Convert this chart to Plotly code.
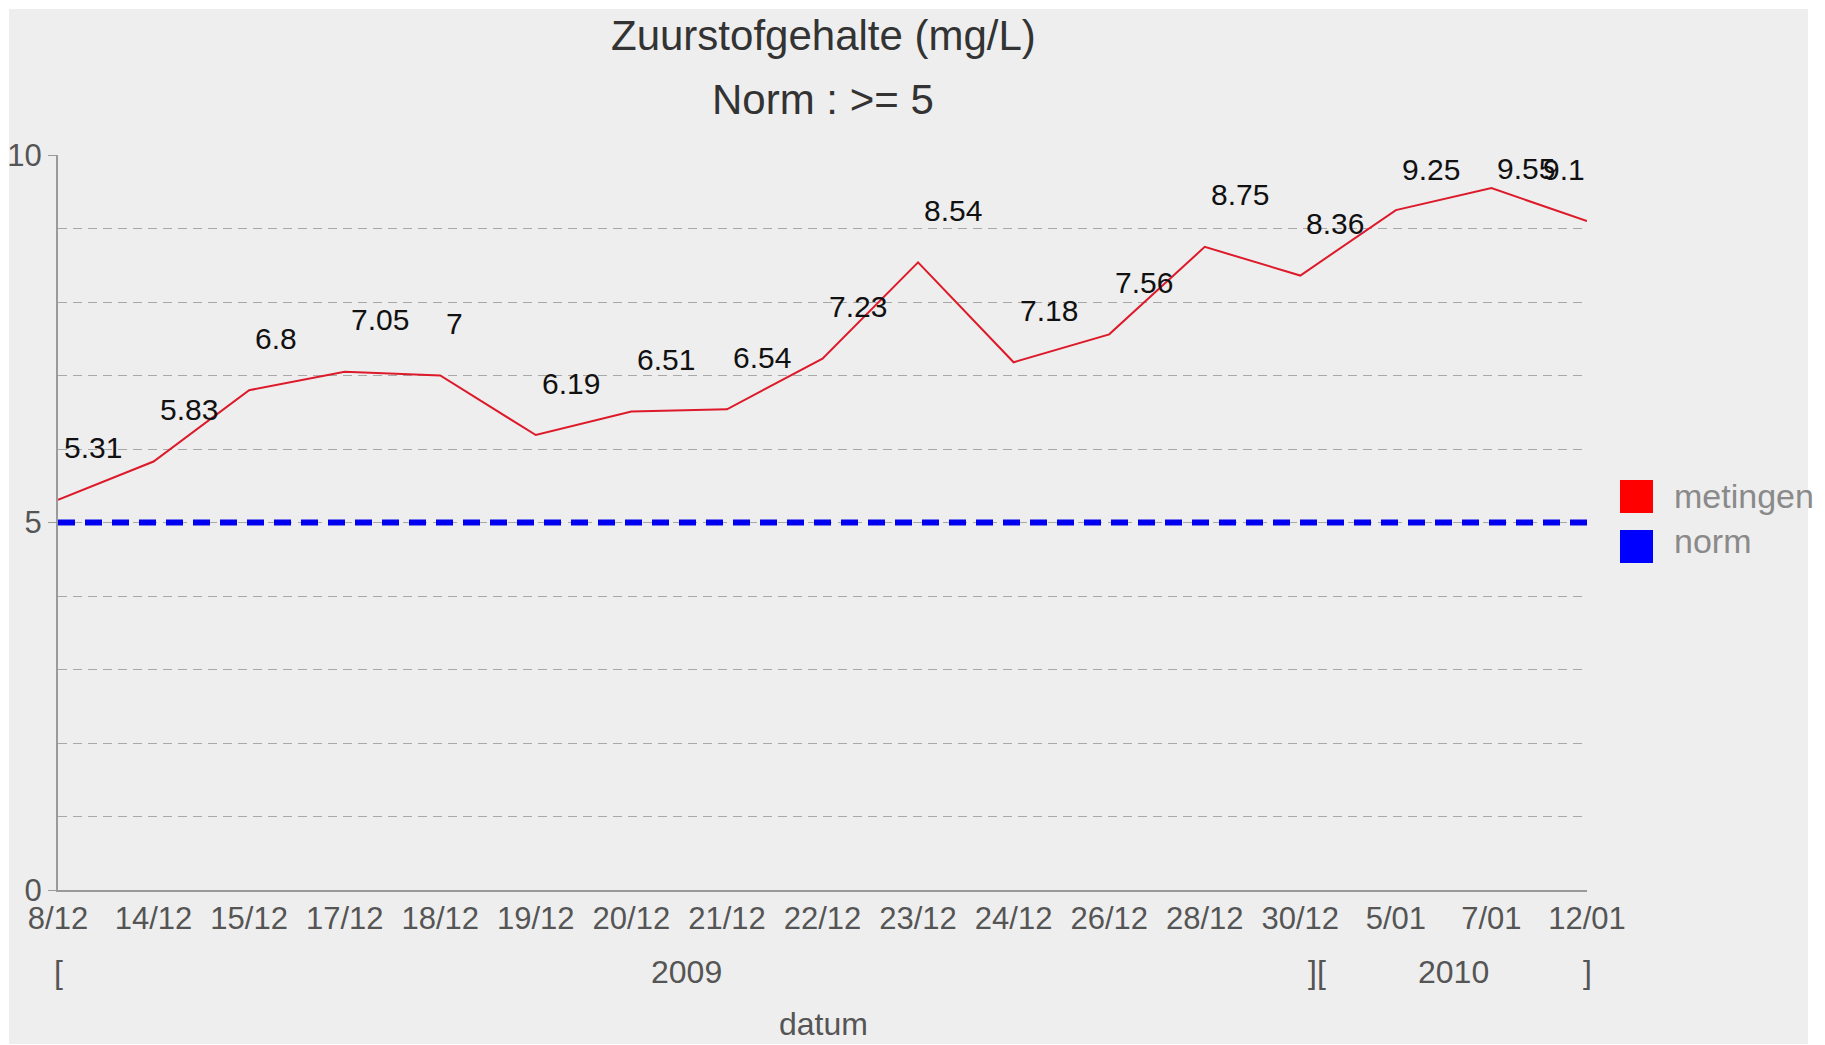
import plotly.graph_objects as go

# ---- data ----
dates = ["8/12", "14/12", "15/12", "17/12", "18/12", "19/12", "20/12", "21/12", "22/12",
         "23/12", "24/12", "26/12", "28/12", "30/12", "5/01", "7/01", "12/01"]
metingen = [5.31, 5.83, 6.8, 7.05, 7, 6.19, 6.51, 6.54, 7.23, 8.54, 7.18, 7.56, 8.75,
            8.36, 9.25, 9.55, 9.1]
norm_value = 5
year_labels = ["[", "2009", "][", "2010", "]"]
year_pos = [0, 6.58, 13.17, 14.6, 16]
y_ticks = [0, 5, 10]
y_range = [0, 10]

# ---- layout geometry (figure pixels; the page adds an 8px body margin) ----
OFF = 8
W, H = 1825 - OFF, 1045 - OFF
L, T = 58 - OFF, 155 - OFF
R = W - (1587 - OFF)
B = H - (890 - OFF)
pw, ph = W - L - R, H - T - B


def px(xp):
    """page x pixel -> paper fraction"""
    return (xp - OFF - L) / pw


def py(yp):
    """page y pixel -> paper fraction"""
    return (H - B - (yp - OFF)) / ph


FONT = "Liberation Sans, Arial, sans-serif"
x = list(range(len(dates)))

fig = go.Figure()
fig.add_trace(go.Scatter(x=[x[0], x[-1]], y=[norm_value, norm_value], mode="lines",
                         line=dict(color="#0000ee", width=6, dash="17px,10px"),
                         name="norm", showlegend=False, hoverinfo="skip"))
fig.add_trace(go.Scatter(x=x, y=metingen, mode="lines",
                         line=dict(color="#dd1a2a", width=2),
                         name="metingen", showlegend=False))

annotations = []
label_offset = 52           # pixels above the point
label_top = 169 - T - OFF   # labels never rise above this (pixels below plot top)
for i, v in enumerate(metingen):
    last = i == len(metingen) - 1
    point_from_top = (y_range[1] - v) / (y_range[1] - y_range[0]) * ph
    shift = min(label_offset, point_from_top - label_top)
    annotations.append(dict(x=i, y=v, xref="x", yref="y", text=f"{v:g}", showarrow=False,
                            xanchor="right" if last else "left", yanchor="middle",
                            xshift=0 if last else 4, yshift=shift,
                            font=dict(family=FONT, size=30, color="#111111")))
for lbl, pos in zip(year_labels, year_pos):
    annotations.append(dict(x=pos, y=py(972), xref="x", yref="paper", text=lbl, showarrow=False,
                            xanchor="center", yanchor="middle",
                            font=dict(family=FONT, size=32, color="#555555")))
annotations.append(dict(x=px(823), y=py(1024), xref="paper", yref="paper", text="datum",
                        showarrow=False, xanchor="center", yanchor="middle",
                        font=dict(family=FONT, size=32, color="#555555")))
annotations.append(dict(x=px(823), y=py(35), xref="paper", yref="paper",
                        text="Zuurstofgehalte (mg/L)", showarrow=False,
                        xanchor="center", yanchor="middle",
                        font=dict(family=FONT, size=42, color="#333333")))
annotations.append(dict(x=px(823), y=py(99), xref="paper", yref="paper",
                        text="Norm : >= 5", showarrow=False,
                        xanchor="center", yanchor="middle",
                        font=dict(family=FONT, size=42, color="#333333")))
# legend texts
for name, yc in [("metingen", 496), ("norm", 541)]:
    annotations.append(dict(x=px(1672), y=py(yc), xref="paper", yref="paper", text=name,
                            showarrow=False, xanchor="left", yanchor="middle",
                            font=dict(family=FONT, size=34, color="#8a8a8a")))

shapes = [
    dict(type="rect", xref="paper", yref="paper", x0=px(9), x1=px(1808), y0=py(1044), y1=py(9),
         fillcolor="#eeeeee", line=dict(width=0), layer="below"),
    dict(type="rect", xref="paper", yref="paper", x0=px(1620), x1=px(1653), y0=py(513), y1=py(480),
         fillcolor="#ff0000", line=dict(width=0)),
    dict(type="rect", xref="paper", yref="paper", x0=px(1620), x1=px(1653), y0=py(563), y1=py(530),
         fillcolor="#0000ff", line=dict(width=0)),
]

fig.update_layout(
    width=W, height=H,
    margin=dict(l=L, r=R, t=T, b=B, pad=0, autoexpand=False),
    paper_bgcolor="#ffffff",
    plot_bgcolor="#eeeeee",
    showlegend=False,
    annotations=annotations,
    shapes=shapes,
    font=dict(family=FONT, size=31, color="#555555"),
)
fig.update_xaxes(range=[0, len(dates) - 1], tickvals=x, ticktext=dates, showgrid=False,
                 automargin=False,
                 zeroline=False, showline=True, linecolor="#9a9a9a", linewidth=2,
                 ticks="", tickfont=dict(family=FONT, size=31, color="#555555"))
fig.update_yaxes(range=y_range, tickvals=y_ticks, showgrid=True, gridcolor="#a8a8a8",
                 automargin=False,
                 griddash="9px,6px", gridwidth=1, zeroline=False, showline=True,
                 linecolor="#9a9a9a", linewidth=2, ticks="outside", ticklen=8,
                 tickcolor="#9a9a9a", tickfont=dict(family=FONT, size=31, color="#555555"),
                 minor=dict(dtick=1, showgrid=True, gridcolor="#a8a8a8", griddash="9px,6px",
                            gridwidth=1, ticks=""))

fig.write_html("out.html")
